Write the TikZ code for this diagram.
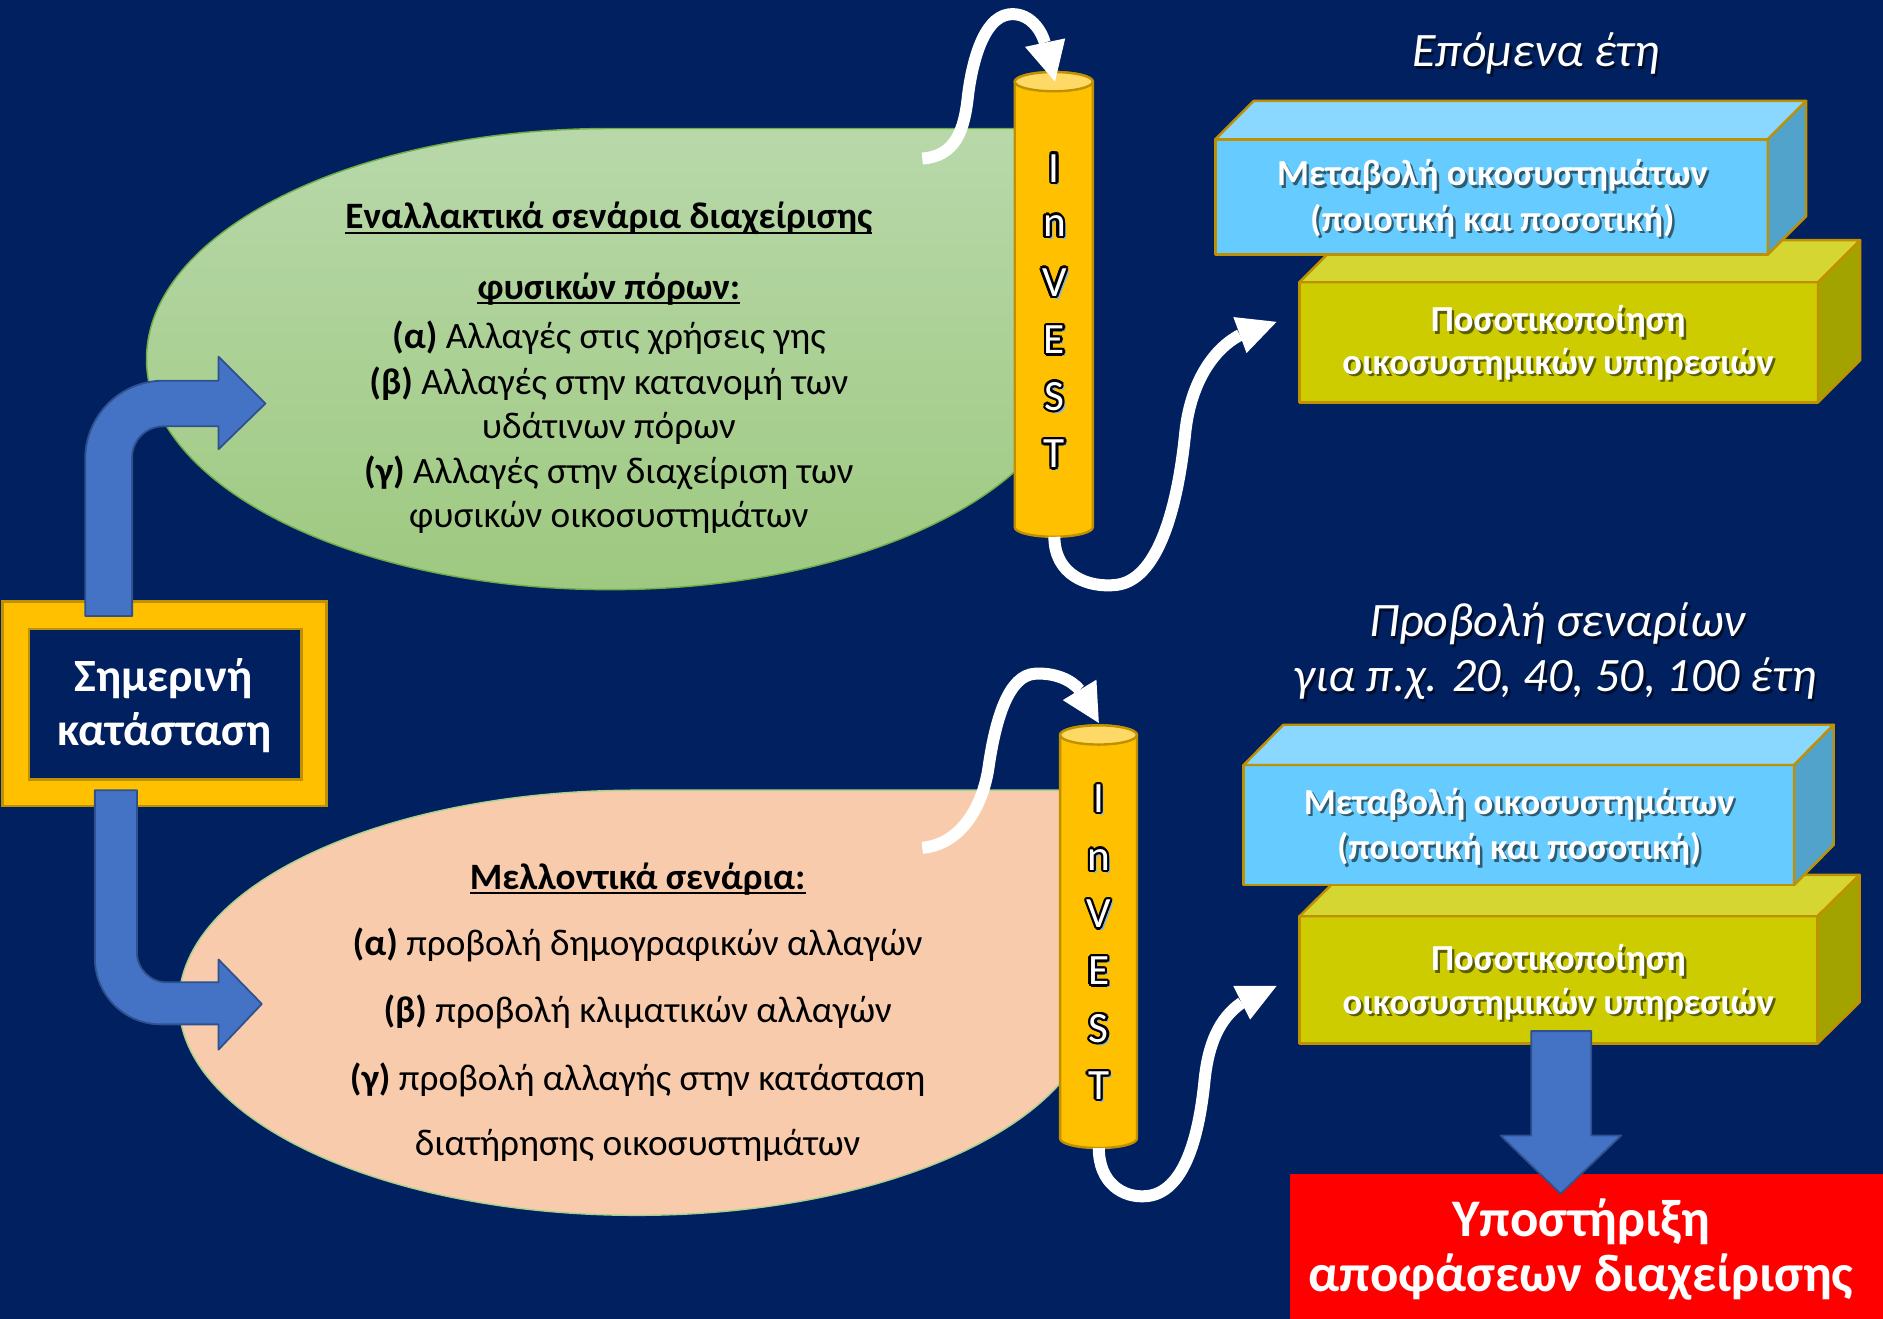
\documentclass[tikz,border=0pt]{standalone}
\usepackage{fontspec}
\setmainfont{Carlito}
\usetikzlibrary{calc}
\definecolor{bg}{RGB}{0,32,96}
\definecolor{grtop}{RGB}{184,216,170}
\definecolor{grbot}{RGB}{158,201,128}
\definecolor{grline}{RGB}{112,173,71}
\definecolor{peach}{RGB}{248,203,173}
\definecolor{peachline}{RGB}{169,209,142}
\definecolor{cylfill}{RGB}{255,192,0}
\definecolor{cyltop}{RGB}{255,217,102}
\definecolor{gold}{RGB}{191,144,0}
\definecolor{arrblue}{RGB}{68,114,196}
\definecolor{arrblueline}{RGB}{47,82,143}
\definecolor{cyanfront}{RGB}{102,204,255}
\definecolor{cyantop}{RGB}{138,215,255}
\definecolor{cyanside}{RGB}{82,163,204}
\definecolor{olivefront}{RGB}{204,204,0}
\definecolor{olivetop}{RGB}{214,214,51}
\definecolor{oliveside}{RGB}{163,163,0}
\definecolor{invshadow}{RGB}{130,180,235}
\newcommand\shtxt[5]{%
  \node[#1,text=black,opacity=0.55] at (#2+2,#3+2) {#5};
  \node[#1] (#4) at (#2,#3) {#5};}
\newcommand\invl[4]{%
  \node[invf,text=invshadow] at (#1+2.5,#2+2.5) {#4};
  \foreach \ang in {0,30,...,330}{\node[invf,text=black] at ($(#1,#2)+(\ang:2)$) {#4};}
  \node[invf,text=white] (#3) at (#1,#2) {#4};}
\newcommand\cuboid[9]{%
  \filldraw[#7,draw=gold,line width=2pt,line join=round] (#1,#2) rectangle (#3,#4);
  \filldraw[#8,draw=gold,line width=2pt,line join=round] (#1,#2) -- (#1+#5,#2-#6) -- (#3+#5,#2-#6) -- (#3,#2) -- cycle;
  \filldraw[#9,draw=gold,line width=2pt,line join=round] (#3,#2) -- (#3+#5,#2-#6) -- (#3+#5,#4-#6) -- (#3,#4) -- cycle;}
\newcommand\cylinder[5]{%
  \filldraw[cylfill,draw=gold,line width=2pt] (#1-#4,#2) -- (#1-#4,#3) arc[start angle=180,end angle=0,x radius=#4,y radius=#5] -- (#1+#4,#2) arc[start angle=0,end angle=-180,x radius=#4,y radius=#5] -- cycle;
  \filldraw[cyltop,draw=gold,line width=2pt] (#1,#2) ellipse[x radius=#4,y radius=#5];}
\begin{document}
\begin{tikzpicture}[x=1pt,y=-1pt,
  gtxt/.style={font=\fontsize{31}{37}\selectfont, inner sep=0pt, text height=22.5pt, text depth=7.5pt, text=black},
  gbold/.style={gtxt, font=\fontsize{31}{37}\selectfont\bfseries},
  btxt/.style={font=\fontsize{30.5}{36}\selectfont\bfseries, inner sep=0pt, text height=22pt, text depth=7.5pt, text=white},
  ttl/.style={font=\fontsize{40}{46}\selectfont\itshape, inner sep=0pt, text height=28.5pt, text depth=9.5pt, text=white},
  ftxt/.style={font=\fontsize{38.5}{44}\selectfont\bfseries, inner sep=0pt, text height=28pt, text depth=9pt, text=white},
  rtxt/.style={font=\fontsize{44}{50}\selectfont\bfseries, inner sep=0pt, text height=31pt, text depth=10pt, text=white},
  invf/.style={font=\fontsize{36}{40}\selectfont, inner sep=0pt},
  warrow/.style={draw=white, line width=10pt},
  whead/.style={fill=white},
  barrow/.style={fill=arrblue, draw=arrblueline, line width=1.5pt, line join=round},
  uline/.style={draw=black, line width=2pt}]
\useasboundingbox (0,0) rectangle (1568,1098.3);
\fill[bg] (-2,-2) rectangle (1570,1101);

% scenario shapes
\path[top color=grtop, bottom color=grbot, draw=grline, line width=1.2pt]
  (508,107) arc[start angle=-90, end angle=-360, x radius=386, y radius=192] -- (894,107) -- cycle;
\filldraw[fill=peach, draw=peachline, line width=1.2pt]
  (530,658) arc[start angle=-90, end angle=-360, x radius=381, y radius=177] -- (911,658) -- cycle;

% INVEST cylinders
\cylinder{877.5}{68}{439}{32.5}{8}
\cylinder{914.75}{612}{948}{32}{8}

% white curved connectors
\coordinate (a1s) at (768,132);
\coordinate (a1e) at (870,35.5);
\draw[warrow] (a1s) .. controls (796,130) and (803,108) .. (806,80) .. controls (809,55) and (818,15) .. (840,12) .. controls (855,10) and (866,22) .. (a1e);
\fill[whead] (853.5,39) -- (878.5,68) -- (887,32) -- cycle;

\coordinate (a2s) at (878,447);
\coordinate (a2e) at (1032.5,279);
\draw[warrow] (a2s) .. controls (878,478) and (905,490) .. (930,487) .. controls (968,482) and (982,410) .. (987,360) .. controls (991,322) and (1008,292) .. (a2e);
\fill[whead] (1027,264) -- (1063,268) -- (1038,294) -- cycle;

\coordinate (a3s) at (768,706);
\coordinate (a3e) at (899,574.5);
\draw[warrow] (a3s) .. controls (800,703) and (818,672) .. (823,640) .. controls (829,598) and (840,562) .. (862,561) .. controls (878,560) and (892,566) .. (a3e);
\fill[whead] (885,583) -- (915,602) -- (913,566) -- cycle;

\coordinate (a4s) at (915,956);
\coordinate (a4e) at (1034,835);
\draw[warrow] (a4s) .. controls (915,985) and (935,998) .. (955,996) .. controls (985,993) and (998,950) .. (1003,900) .. controls (1006,870) and (1015,848) .. (a4e);
\fill[whead] (1027,821) -- (1063,821) -- (1041,849) -- cycle;

% current state frame
\filldraw[cylfill, draw=gold, line width=2pt] (2,501) rectangle (272,671);
\filldraw[bg, draw=gold, line width=2pt] (24,524) rectangle (251,649);

% blue bent arrows
\filldraw[barrow] (71,513) -- (71,382) .. controls (71,346.1) and (100.1,317) .. (136,317) -- (182,317) -- (182,297) -- (221,336) -- (182,374) -- (182,355) -- (136,355) .. controls (121.6,355) and (110,366.6) .. (110,381) -- (110,513) -- cycle;
\filldraw[barrow] (79,658) -- (79,798) .. controls (79,828.4) and (103.6,853) .. (134,853) -- (182,853) -- (182,874) -- (218,836) -- (182,799) -- (182,818) -- (139,818) .. controls (125.2,818) and (114,806.8) .. (114,793) -- (114,658) -- cycle;

% cuboids
\cuboid{1082}{235}{1514}{335}{35}{35}{olivefront}{olivetop}{oliveside}
\cuboid{1012}{116}{1472}{212}{32}{32}{cyanfront}{cyantop}{cyanside}
\cuboid{1082}{763}{1513.5}{869}{35}{34.5}{olivefront}{olivetop}{oliveside}
\cuboid{1035.6}{637}{1494}{737}{33}{33.5}{cyanfront}{cyantop}{cyanside}

% decision support
\fill[red] (1074,978) rectangle (1570,1101);
\filldraw[barrow] (1275,858.6) -- (1325,858.6) -- (1325,945.5) -- (1350,945.5) -- (1299.5,994) -- (1249.5,945.5) -- (1275,945.5) -- cycle;

% texts: green
\node[gbold] (g1) at (507,183) {Εναλλακτικά σενάρια διαχείρισης};
\node[gbold] (g2) at (507,241.5) {φυσικών πόρων:};
\draw[uline] ([yshift=-3.5pt]g1.base west) -- ([yshift=-3.5pt]g1.base east);
\draw[uline] ([yshift=-3.5pt]g2.base west) -- ([yshift=-3.5pt]g2.base east);
\node[gtxt] (g3) at (507,283) {\textbf{(α)} Αλλαγές στις χρήσεις γης};
\node[gtxt] (g4) at (507,320.6) {\textbf{(β)} Αλλαγές στην κατανομή των};
\node[gtxt] (g5) at (507,358) {υδάτινων πόρων};
\node[gtxt] (g6) at (507,395.5) {\textbf{(γ)} Αλλαγές στην διαχείριση των};
\node[gtxt] (g7) at (507,431.6) {φυσικών οικοσυστημάτων};

% texts: peach
\node[gbold] (p1) at (531,732.8) {Μελλοντικά σενάρια:};
\draw[uline] ([yshift=-3.5pt]p1.base west) -- ([yshift=-3.5pt]p1.base east);
\node[gtxt] (p2) at (531,788) {\textbf{(α)} προβολή δημογραφικών αλλαγών};
\node[gtxt] (p3) at (531,843.7) {\textbf{(β)} προβολή κλιματικών αλλαγών};
\node[gtxt] (p4) at (531,900.7) {\textbf{(γ)} προβολή αλλαγής στην κατάσταση};
\node[gtxt] (p5) at (531,955) {διατήρησης οικοσυστημάτων};

% current state text
\node[ftxt] (s1) at (136,566) {Σημερινή};
\node[ftxt] (s2) at (137,611) {κατάσταση};

% box texts
\shtxt{btxt}{1242.7}{147.5}{b1}{Μεταβολή οικοσυστημάτων}
\shtxt{btxt}{1242.7}{185.5}{b2}{(ποιοτική και ποσοτική)}
\shtxt{btxt}{1297.5}{269}{b3}{Ποσοτικοποίηση}
\shtxt{btxt}{1297.5}{304.5}{b4}{οικοσυστημικών υπηρεσιών}
\shtxt{btxt}{1265}{671}{b5}{Μεταβολή οικοσυστημάτων}
\shtxt{btxt}{1265}{708.6}{b6}{(ποιοτική και ποσοτική)}
\shtxt{btxt}{1297.7}{801}{b7}{Ποσοτικοποίηση}
\shtxt{btxt}{1297.7}{837.5}{b8}{οικοσυστημικών υπηρεσιών}

% titles
\shtxt{ttl}{1279}{46}{t1}{Επόμενα έτη}
\shtxt{ttl}{1296.6}{520.7}{t2}{Προβολή σεναρίων}
\shtxt{ttl}{1295}{566.5}{t3}{για π.χ. 20, 40, 50, 100 έτη}

% decision text
\node[rtxt] (r1) at (1316.6,1019) {Υποστήριξη};
\node[rtxt] (r2) at (1316.5,1065) {αποφάσεων διαχείρισης};

% INVEST letters
\invl{878}{140}{i1}{I}
\invl{878}{188}{i2}{n}
\invl{878}{235}{i3}{V}
\invl{878}{283}{i4}{E}
\invl{878}{330}{i5}{S}
\invl{878}{378}{i6}{T}
\invl{915}{665}{j1}{I}
\invl{915}{716}{j2}{n}
\invl{915}{761}{j3}{V}
\invl{915}{808.5}{j4}{E}
\invl{915}{856.5}{j5}{S}
\invl{915}{904}{j6}{T}
\end{tikzpicture}
\end{document}
